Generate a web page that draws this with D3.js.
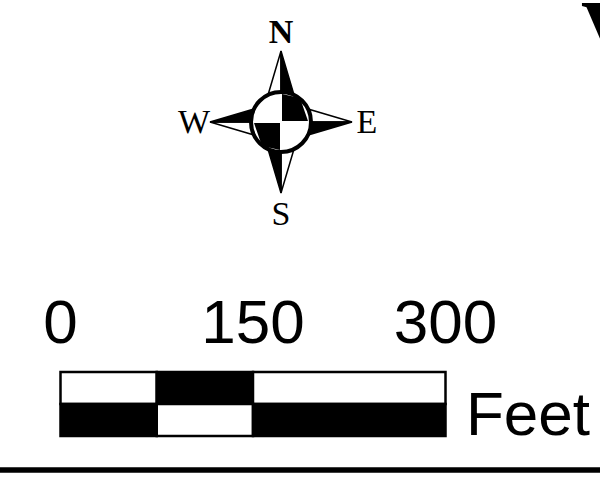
<!DOCTYPE html>
<html>
<head>
<meta charset="utf-8">
<script src="https://cdn.jsdelivr.net/npm/d3@7"></script>
<style>
  html, body { margin: 0; padding: 0; background: #fff; overflow: hidden; }
  text { fill: #000; }
</style>
</head>
<body>
<svg id="map" width="600" height="483"></svg>
<script>
// scale bar values, in feet
const barTicks = [0, 150, 300];
const barTop = [[0, 75, 'white'], [75, 150, 'black'], [150, 300, 'white']];
const barBottom = [[0, 75, 'black'], [75, 150, 'white'], [150, 300, 'black']];
const barUnit = 'Feet';

// compass
const bearings = [0, 90, 180, 270];
const letters = ['N', 'E', 'S', 'W'];
const letterWeight = ['bold', 'normal', 'normal', 'normal'];
const letterDist = [90, 86, 92, 87];

const width = 600, height = 483;
const svg = d3.select('#map');

// Scale bar
const x = d3.scaleLinear().domain([0, 300]).range([60.5, 445.5]);
const bar = svg.append('g');

const rows = [
  { cells: barTop, y: 372, h: 32 },
  { cells: barBottom, y: 404, h: 32 }
];
rows.forEach(row => {
  bar.append('g')
    .selectAll('rect')
    .data(row.cells)
    .join('rect')
    .attr('x', d => x(d[0]))
    .attr('y', row.y)
    .attr('width', d => x(d[1]) - x(d[0]))
    .attr('height', row.h)
    .attr('fill', d => d[2])
    .attr('stroke', 'black')
    .attr('stroke-width', 2.5);
});

bar.append('g')
  .selectAll('text')
  .data(barTicks)
  .join('text')
  .attr('x', d => x(d))
  .attr('y', 343)
  .attr('text-anchor', 'middle')
  .style('font-family', 'Liberation Sans')
  .style('font-size', '62px')
  .text(d => d);

bar.append('text')
  .attr('x', 466)
  .attr('y', 435)
  .style('font-family', 'Liberation Sans')
  .style('font-size', '62px')
  .text(barUnit);

// Compass
const compass = svg.append('g').attr('transform', 'translate(281,122)');

const point = compass.selectAll('g.point')
  .data(bearings)
  .join('g')
  .attr('class', 'point')
  .attr('transform', d => `rotate(${d})`);

// each point has a white left half and a black right half
point.append('path')
  .attr('d', 'M0,-71 L-13,-27 L0,-24 Z')
  .attr('fill', 'white')
  .attr('stroke', 'black')
  .attr('stroke-width', 1.5);
point.append('path')
  .attr('d', 'M0,-71 L13,-27 L0,-24 Z')
  .attr('fill', 'black')
  .attr('stroke', 'black')
  .attr('stroke-width', 1.5);

compass.append('circle')
  .attr('r', 30)
  .attr('fill', 'white')
  .attr('stroke', 'black')
  .attr('stroke-width', 4);

const quadrant = 'M1,-28 L19,-24 L27,-1 L1,-1 Z';
compass.selectAll('path.quadrant')
  .data([0, 180])
  .join('path')
  .attr('class', 'quadrant')
  .attr('transform', d => `rotate(${d})`)
  .attr('d', quadrant)
  .attr('fill', 'black');

compass.selectAll('text')
  .data(letters)
  .join('text')
  .attr('x', (d, i) => Math.round(Math.sin(bearings[i] * Math.PI / 180) * letterDist[i]))
  .attr('y', (d, i) => Math.round(-Math.cos(bearings[i] * Math.PI / 180) * letterDist[i]))
  .attr('dy', '0.33em')
  .attr('text-anchor', 'middle')
  .style('font-family', 'Liberation Serif')
  .style('font-size', '34px')
  .style('font-weight', (d, i) => letterWeight[i])
  .text(d => d);

// Letter cut off at the right edge
svg.append('text')
  .attr('x', 581)
  .attr('y', 59)
  .style('font-family', 'Liberation Serif')
  .style('font-weight', 'bold')
  .style('font-size', '85px')
  .text('V');

// Bottom rule
svg.append('line')
  .attr('x1', 0)
  .attr('x2', width)
  .attr('y1', 470)
  .attr('y2', 470)
  .attr('stroke', 'black')
  .attr('stroke-width', 5.5);
</script>
</body>
</html>
